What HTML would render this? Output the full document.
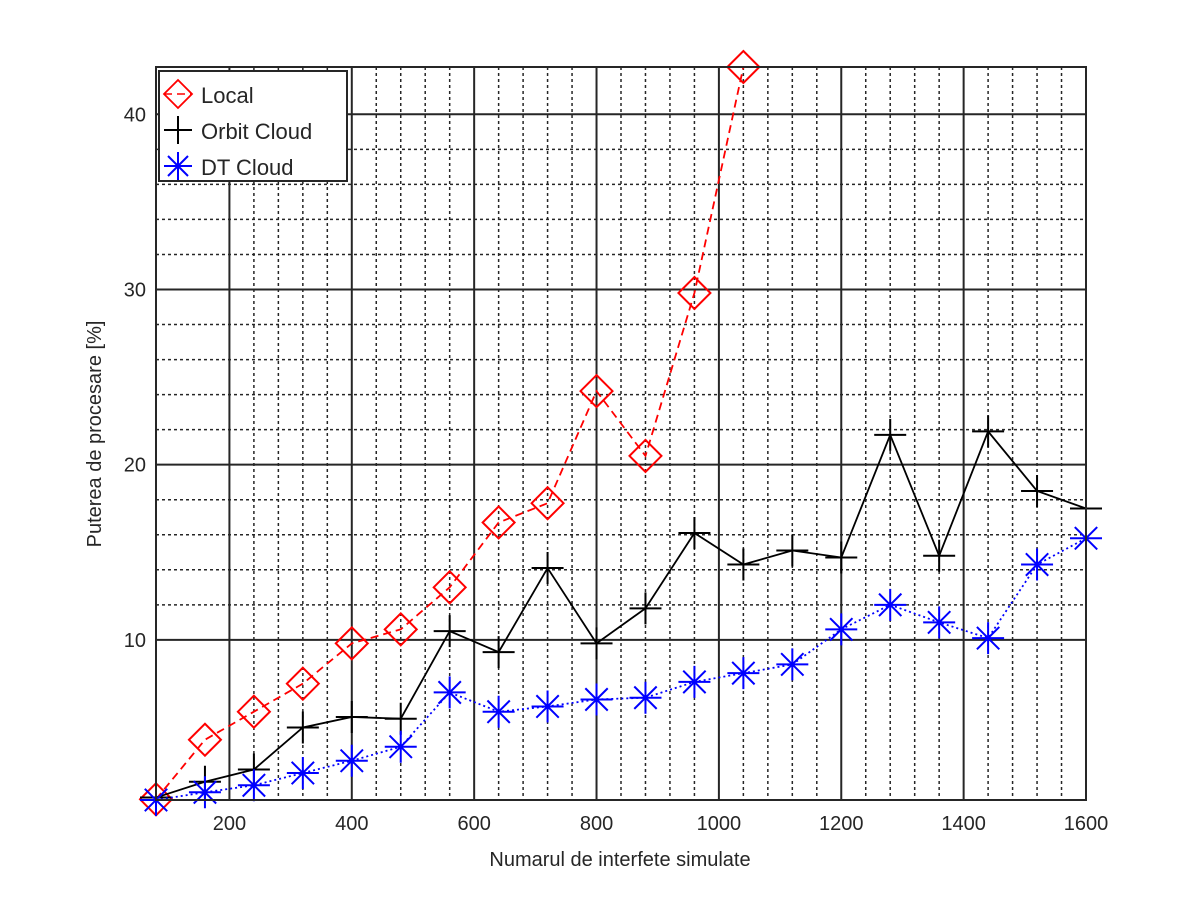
<!DOCTYPE html>
<html><head><meta charset="utf-8"><style>
body{margin:0;background:#fff}
svg text{font-family:"Liberation Sans",sans-serif;fill:#262626}
</style></head><body>
<svg id="chart" width="1200" height="898" xmlns="http://www.w3.org/2000/svg">
<rect width="1200" height="898" fill="#fff"/>
<g id="grid"></g>
<g id="series"></g>
<g id="axes"></g>
<text x="620" y="866" text-anchor="middle" font-size="20">Numarul de interfete simulate</text>
<text transform="translate(101,434) rotate(-90)" text-anchor="middle" font-size="20">Puterea de procesare [%]</text>
<g>
<rect x="159" y="71" width="188" height="110" fill="#fff" stroke="#262626" stroke-width="2"/>
<g>
<line x1="164" y1="94" x2="192" y2="94" stroke="#f00" stroke-width="1.5" stroke-dasharray="8,5"/>
<path d="M178 80 L192 94 L178 108 L164 94 Z" fill="none" stroke="#f00" stroke-width="1.8"/>
<text x="201" y="103" font-size="22">Local</text></g>
<g>
<line x1="164" y1="130" x2="192" y2="130" stroke="#000" stroke-width="1.5"/>
<path d="M178 116 V144 M164 130 H192" stroke="#000" stroke-width="2"/>
<text x="201" y="139" font-size="22">Orbit Cloud</text></g>
<g>
<line x1="164" y1="166" x2="192" y2="166" stroke="#00f" stroke-width="1.5" stroke-dasharray="2,3"/>
<path d="M178 152 V180 M164 166 H192 M168 156 L188 176 M188 156 L168 176" stroke="#00f" stroke-width="2"/>
<text x="201" y="175" font-size="22">DT Cloud</text></g>
</g>
</svg>
<script>
const xValues=[80,160,240,320,400,480,560,640,720,800,880,960,1040,1120,1200,1280,1360,1440,1520,1600];
const localValues=[0.9,4.3,5.9,7.5,9.8,10.6,13.0,16.7,17.8,24.2,20.5,29.8,42.7];
const orbitValues=[1.0,1.9,2.6,5.0,5.6,5.5,10.5,9.3,14.1,9.8,11.8,16.1,14.3,15.1,14.7,21.7,14.8,21.9,18.5,17.5];
const dtValues=[0.86,1.3,1.7,2.4,3.1,3.9,7.0,5.9,6.2,6.6,6.7,7.6,8.1,8.6,10.6,12.0,11.0,10.1,14.3,15.8];
const xTicks=[200,400,600,800,1000,1200,1400,1600];
const yTicks=[10,20,30,40];
const X0=156,X1=1086,Y0=800,Y1=67,xmin=80,xmax=1600,ymin=0.86,ymax=42.7;
const sx=v=>X0+(v-xmin)/(xmax-xmin)*(X1-X0);
const sy=v=>Y0-(v-ymin)/(ymax-ymin)*(Y0-Y1);
const NS="http://www.w3.org/2000/svg";
function mk(parent,tag,attrs){const e=document.createElementNS(NS,tag);for(const k in attrs)e.setAttribute(k,attrs[k]);parent.appendChild(e);return e;}
const grid=document.getElementById('grid'),ser=document.getElementById('series'),axes=document.getElementById('axes');
for(let v=xTicks[0];v<xTicks[xTicks.length-1];v+=40){if(v%200===0)continue;
 const l=mk(grid,'line',{x1:sx(v),x2:sx(v),y1:Y1,y2:Y0,stroke:'#262626','stroke-width':1.5,'stroke-dasharray':'3,3'});
 
 }
for(let v=yTicks[0];v<yTicks[yTicks.length-1];v+=2){if(v%10===0)continue;
 const l=mk(grid,'line',{x1:X0,x2:X1,y1:sy(v),y2:sy(v),stroke:'#262626','stroke-width':1.5,'stroke-dasharray':'3,3'});
 
 }
xTicks.forEach(v=>{const l=mk(grid,'line',{x1:sx(v),x2:sx(v),y1:Y1,y2:Y0,stroke:'#262626','stroke-width':2});
 
 
 const t=mk(axes,'text',{x:sx(v),y:Y0+30,'text-anchor':'middle','font-size':20});t.textContent=v;
 
 });
yTicks.forEach(v=>{const l=mk(grid,'line',{x1:X0,x2:X1,y1:sy(v),y2:sy(v),stroke:'#262626','stroke-width':2});
 
 
 const t=mk(axes,'text',{x:X0-10,y:sy(v)+7,'text-anchor':'end','font-size':20});t.textContent=v;
 
 });
const fr=mk(axes,'rect',{x:X0,y:Y1,width:X1-X0,height:Y0-Y1,fill:'none',stroke:'#262626','stroke-width':2});


function series(vals,color,dash,marker,name){
 const pts=vals.map((v,i)=>sx(xValues[i])+','+sy(v)).join(' ');
 const pl=mk(ser,'polyline',{points:pts,fill:'none',stroke:color,'stroke-width':1.8,'stroke-dasharray':dash});
 
 
 vals.forEach((v,i)=>{const x=sx(xValues[i]),y=sy(v),r=16;let d;
  if(marker==='d')d=`M${x} ${y-r} L${x+r} ${y} L${x} ${y+r} L${x-r} ${y} Z`;
  else if(marker==='+')d=`M${x} ${y-r} V${y+r} M${x-r} ${y} H${x+r}`;
  else{const q=r*0.7;d=`M${x} ${y-r} V${y+r} M${x-r} ${y} H${x+r} M${x-q} ${y-q} L${x+q} ${y+q} M${x+q} ${y-q} L${x-q} ${y+q}`;}
  const m=mk(ser,'path',{d:d,fill:'none',stroke:color,'stroke-width':2});
  
  });
}
series(localValues,'#f00','8,5','d','local');
series(orbitValues,'#000','none','+','orbit-cloud');
series(dtValues,'#00f','2,3','*','dt-cloud');
</script>
</body></html>
